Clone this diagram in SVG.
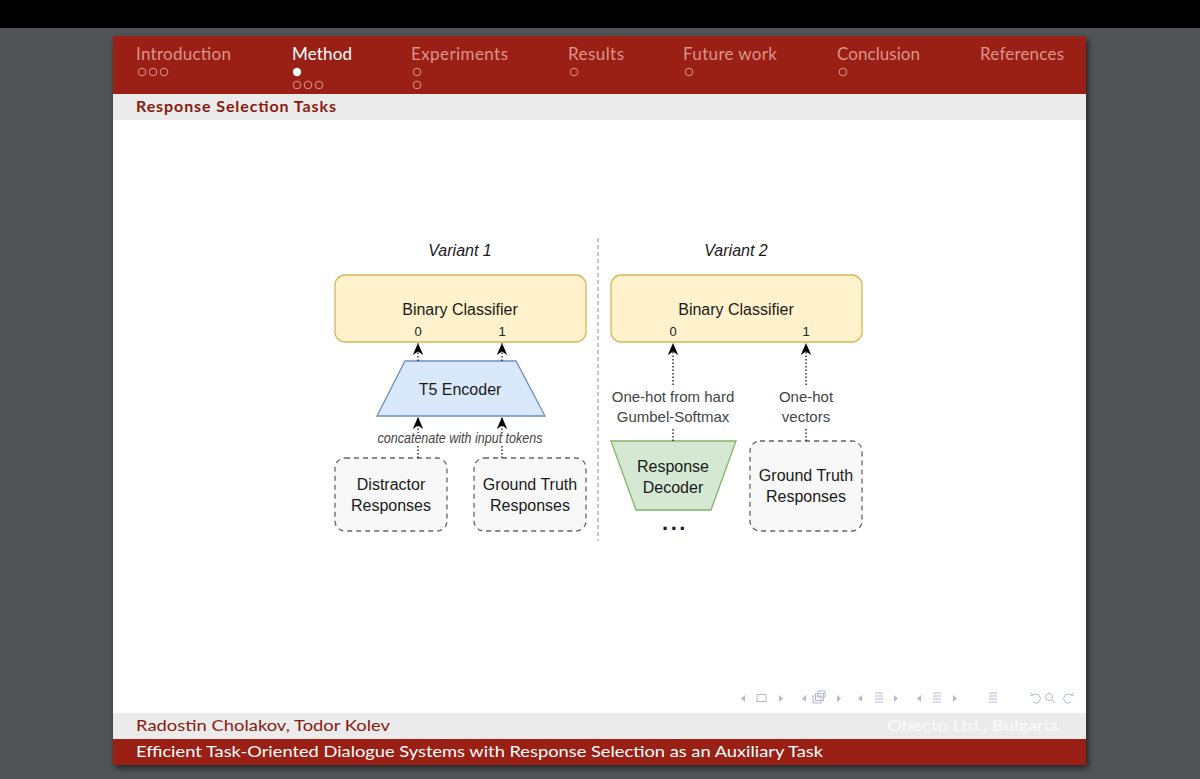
<svg xmlns="http://www.w3.org/2000/svg" width="1200" height="779" viewBox="0 0 1200 779">
<defs>
<filter id="sh" x="-5%" y="-5%" width="110%" height="110%"><feGaussianBlur in="SourceAlpha" stdDeviation="3"/><feOffset dx="2" dy="3"/><feComponentTransfer><feFuncA type="linear" slope="0.6"/></feComponentTransfer><feMerge><feMergeNode/><feMergeNode in="SourceGraphic"/></feMerge></filter>
<marker id="ah" markerUnits="userSpaceOnUse" markerWidth="14" markerHeight="14" viewBox="0 0 14 14" refX="12" refY="7" orient="auto"><path d="M0,1.8 L12,7 L0,12.2 L3.5,7 z" fill="#000"/></marker>
<style>
.hdr{font-family:Lato,"Open Sans",sans-serif;font-size:17px;fill:#dc948c}
.act{fill:#ffffff}
.dot{fill:none;stroke:#dc948c;stroke-width:1}
.dg{font-family:"Liberation Sans",Arial,sans-serif;fill:#1a1a1a;text-anchor:middle}
.lbl{font-family:"Liberation Sans",Arial,sans-serif;fill:#444;text-anchor:middle;font-size:15px}
.conn{stroke:#000;stroke-width:1.2;stroke-dasharray:1.5 2;fill:none;marker-end:url(#ah)}
.cls{fill:#fff2cc;stroke:#d6b656;stroke-width:1.3}
.resp{fill:#f8f8f8;stroke:#666;stroke-width:1.3;stroke-dasharray:5 4}
.nav{fill:none;stroke:#b4b8d6;stroke-width:1}
.navf{fill:#b4b8d6}
</style>
</defs>
<rect x="0" y="0" width="1200" height="779" fill="#505457"/>
<rect x="0" y="0" width="1200" height="28" fill="#000"/>
<g filter="url(#sh)">
<rect x="113" y="36" width="973" height="729" fill="#fff"/>
</g>
<rect x="113" y="36" width="973" height="58" fill="#9a1f15"/>
<rect x="113" y="94" width="973" height="26" fill="#ebebeb"/>
<rect x="113" y="713" width="973" height="26" fill="#ebebeb"/>
<rect x="113" y="739" width="973" height="26" fill="#9a1f15"/>
<g id="header">
<text class="hdr" x="136" y="60" textLength="95">Introduction</text>
<text class="hdr act" x="292" y="60" textLength="60">Method</text>
<text class="hdr" x="411" y="60" textLength="97">Experiments</text>
<text class="hdr" x="568" y="60" textLength="56">Results</text>
<text class="hdr" x="683" y="60" textLength="94">Future work</text>
<text class="hdr" x="837" y="60" textLength="83">Conclusion</text>
<text class="hdr" x="980" y="60" textLength="84">References</text>
<circle class="dot" cx="142" cy="72" r="3.8"/><circle class="dot" cx="153" cy="72" r="3.8"/><circle class="dot" cx="164" cy="72" r="3.8"/>
<circle cx="297" cy="72" r="4.2" fill="#fff"/>
<circle class="dot" cx="297" cy="85" r="3.8"/><circle class="dot" cx="308" cy="85" r="3.8"/><circle class="dot" cx="319" cy="85" r="3.8"/>
<circle class="dot" cx="417" cy="72" r="3.8"/><circle class="dot" cx="417" cy="85" r="3.8"/>
<circle class="dot" cx="574" cy="72" r="3.8"/>
<circle class="dot" cx="689" cy="72" r="3.8"/>
<circle class="dot" cx="843" cy="72" r="3.8"/>
<text x="136" y="112" font-family="Lato,'Open Sans',sans-serif" font-size="16" font-weight="bold" fill="#8a1a10" textLength="200">Response Selection Tasks</text>
</g>
<line x1="598" y1="238" x2="598" y2="541" stroke="#aaa" stroke-width="1.3" stroke-dasharray="4 3"/>
<text class="dg" x="460" y="256" font-size="16" font-style="italic" fill="#444">Variant 1</text>
<text class="dg" x="736" y="256" font-size="16" font-style="italic" fill="#444">Variant 2</text>
<g id="classifier1">
<rect class="cls" x="335" y="275" width="251" height="67" rx="10"/>
<text class="dg" x="460" y="315" font-size="16">Binary Classifier</text>
<text class="dg" x="418" y="336" font-size="13">0</text>
<text class="dg" x="502" y="336" font-size="13">1</text>
</g>
<g id="encoder">
<path d="M405,361 L516,361 L545,416 L377,416 Z" fill="#dae8fc" stroke="#6c8ebf" stroke-width="1.3"/>
<text class="dg" x="460" y="395" font-size="16">T5 Encoder</text>
</g>
<g id="distractor">
<rect class="resp" x="335" y="458" width="112" height="73" rx="10"/>
<text class="dg" x="391" y="490" font-size="16">Distractor</text>
<text class="dg" x="391" y="511" font-size="16">Responses</text>
</g>
<g id="gt1">
<rect class="resp" x="474" y="458" width="112" height="73" rx="10"/>
<text class="dg" x="530" y="490" font-size="16">Ground Truth</text>
<text class="dg" x="530" y="511" font-size="16">Responses</text>
</g>
<g id="classifier2">
<rect class="cls" x="611" y="275" width="251" height="67" rx="10"/>
<text class="dg" x="736" y="315" font-size="16">Binary Classifier</text>
<text class="dg" x="673" y="336" font-size="13">0</text>
<text class="dg" x="806" y="336" font-size="13">1</text>
</g>
<g id="decoder">
<path d="M611,441 L736,441 L711,510 L636,510 Z" fill="#d5e8d4" stroke="#82b366" stroke-width="1.3"/>
<text class="dg" x="673" y="472" font-size="16">Response</text>
<text class="dg" x="673" y="493" font-size="16">Decoder</text>
<text class="dg" x="675" y="530" font-size="22" font-weight="bold" letter-spacing="2.5">...</text>
</g>
<g id="gt2">
<rect class="resp" x="750" y="441" width="112" height="90" rx="10"/>
<text class="dg" x="806" y="481" font-size="16">Ground Truth</text>
<text class="dg" x="806" y="502" font-size="16">Responses</text>
</g>
<g id="connectors">
<line class="conn" x1="418" y1="361" x2="418" y2="343"/>
<line class="conn" x1="502" y1="361" x2="502" y2="343"/>
<line class="conn" x1="418" y1="458" x2="418" y2="417"/>
<line class="conn" x1="502" y1="458" x2="502" y2="417"/>
<rect x="376" y="433" width="168" height="13" fill="#fff"/>
<text class="lbl" x="460" y="443" font-size="11" font-style="italic" textLength="165" lengthAdjust="spacingAndGlyphs">concatenate with input tokens</text>
<line class="conn" x1="673" y1="441" x2="673" y2="343"/>
<line class="conn" x1="806" y1="441" x2="806" y2="343"/>
<rect x="609" y="387" width="130" height="42" fill="#fff"/>
<text class="lbl" x="673" y="402">One-hot from hard</text>
<text class="lbl" x="673" y="422">Gumbel-Softmax</text>
<rect x="776" y="387" width="60" height="42" fill="#fff"/>
<text class="lbl" x="806" y="402">One-hot</text>
<text class="lbl" x="806" y="422">vectors</text>
</g>
<g id="navigation">
<path class="navf" d="M745,695 L741,698.5 L745,702 Z"/><rect class="nav" x="757" y="694.5" width="9" height="7"/><path class="navf" d="M779,695 L783,698.5 L779,702 Z"/>
<path class="navf" d="M806,695 L802,698.5 L806,702 Z"/><rect class="nav" x="813" y="696" width="8" height="7"/><rect class="nav" x="815.5" y="693.5" width="8" height="7"/><rect class="nav" x="818" y="691" width="7" height="6"/><path class="navf" d="M837,695 L841,698.5 L837,702 Z"/>
<path class="navf" d="M862,695 L858,698.5 L862,702 Z"/><path class="nav" d="M875,693 h8 M875,696 h8 M875,699 h8 M875,702 h8"/><path class="navf" d="M894,695 L898,698.5 L894,702 Z"/>
<path class="navf" d="M921,695 L917,698.5 L921,702 Z"/><path class="nav" d="M933,693 h8 M933,696 h8 M933,699 h8 M933,702 h8"/><path class="navf" d="M953,695 L957,698.5 L953,702 Z"/>
<path class="nav" d="M989,693 h8 M989,696 h8 M989,699 h8 M989,702 h8"/>
<path class="nav" d="M1033,695 a4.5,4.5 0 1 1 0,7 M1031,693 l2,2 l-3,1"/>
<circle class="nav" cx="1049" cy="697" r="3.5"/><path class="nav" d="M1051.5,699.5 L1055,703"/>
<path class="nav" d="M1071,695 a4.5,4.5 0 1 0 0,7 M1073,693 l-2,2 l3,1"/>
</g>
<g id="footer">
<text x="136" y="731" font-family="Lato,'Open Sans',sans-serif" font-size="16" fill="#8a1a10" textLength="254" lengthAdjust="spacingAndGlyphs">Radostin Cholakov, Todor Kolev</text>
<text x="1062" y="731" font-family="Lato,'Open Sans',sans-serif" font-size="16" fill="#fafafa" text-anchor="end" textLength="175" lengthAdjust="spacingAndGlyphs">Obecto Ltd., Bulgaria.</text>
<text x="136" y="757" font-family="Lato,'Open Sans',sans-serif" font-size="16" fill="#ffffff" textLength="687" lengthAdjust="spacingAndGlyphs">Efficient Task-Oriented Dialogue Systems with Response Selection as an Auxiliary Task</text>
</g>
</svg>
